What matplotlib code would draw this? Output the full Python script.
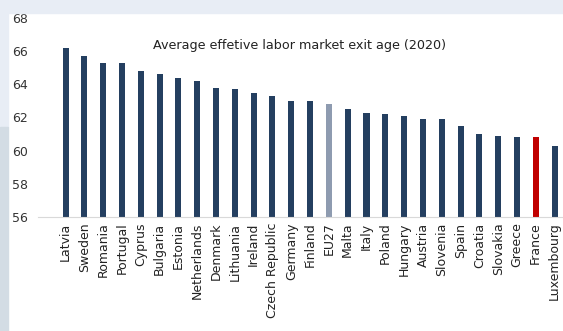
import matplotlib
matplotlib.use("Agg")
import matplotlib.pyplot as plt
from matplotlib.patches import Rectangle

# Effective labour market exit age by country, 2020
countries = ["Latvia", "Sweden", "Romania", "Portugal", "Cyprus", "Bulgaria", "Estonia",
             "Netherlands", "Denmark", "Lithuania", "Ireland", "Czech Republic", "Germany",
             "Finland", "EU27", "Malta", "Italy", "Poland", "Hungary", "Austria", "Slovenia",
             "Spain", "Croatia", "Slovakia", "Greece", "France", "Luxembourg"]
exit_age = [66.2, 65.7, 65.3, 65.3, 64.8, 64.6, 64.4, 64.2, 63.8, 63.7, 63.5, 63.3, 63.0,
            63.0, 62.8, 62.5, 62.3, 62.2, 62.1, 61.9, 61.9, 61.5, 61.0, 60.9, 60.8, 60.8, 60.3]
y_ticks = [56, 58, 60, 62, 64, 66, 68]

navy = "#243f60"
colors = []
for c in countries:
    if c == "EU27":
        colors.append("#8e9bb0")
    elif c == "France":
        colors.append("#c00000")
    else:
        colors.append(navy)

plt.rcParams["font.family"] = ["DejaVu Sans"]

fig = plt.figure(figsize=(5.63, 3.31), dpi=100, facecolor="white")

# page frame strips
fig.patches.append(Rectangle((0, 1 - 13 / 331), 1, 13 / 331, transform=fig.transFigure,
                             color="#e8edf5", zorder=0))
fig.patches.append(Rectangle((0, 1 - 127 / 331), 8 / 563, 127 / 331, transform=fig.transFigure,
                             color="#e8edf5", zorder=0))
fig.patches.append(Rectangle((0, 0), 8 / 563, 1 - 127 / 331, transform=fig.transFigure,
                             color="#d3dce4", zorder=0))

ax = fig.add_axes([38 / 563, 1 - 217 / 331, 1 - 38 / 563, 199 / 331])
ax.set_facecolor("none")
x = range(len(countries))
ax.bar(x, [v - 56 for v in exit_age], bottom=56, width=0.32, color=colors)

ax.set_ylim(56, 68)
ax.set_xlim(-1.47, 26.45)
ax.set_yticks(y_ticks)
ax.set_yticklabels([str(t) for t in y_ticks], fontsize=9, color="#333333")
ax.set_xticks(list(x))
ax.set_xticklabels(countries, rotation=90, fontsize=9, color="#222222")
ax.tick_params(axis="both", length=0)
ax.tick_params(axis="y", pad=7)
ax.tick_params(axis="x", pad=4)

for side in ["top", "right", "left"]:
    ax.spines[side].set_visible(False)
ax.spines["bottom"].set_color("#d9d9d9")

ax.text(0.499, 0.864, "Average effetive labor market exit age (2020)", transform=ax.transAxes,
        ha="center", va="center", fontsize=9.2, color="#222222")

fig.savefig("out.png", dpi=100, facecolor=fig.get_facecolor())
